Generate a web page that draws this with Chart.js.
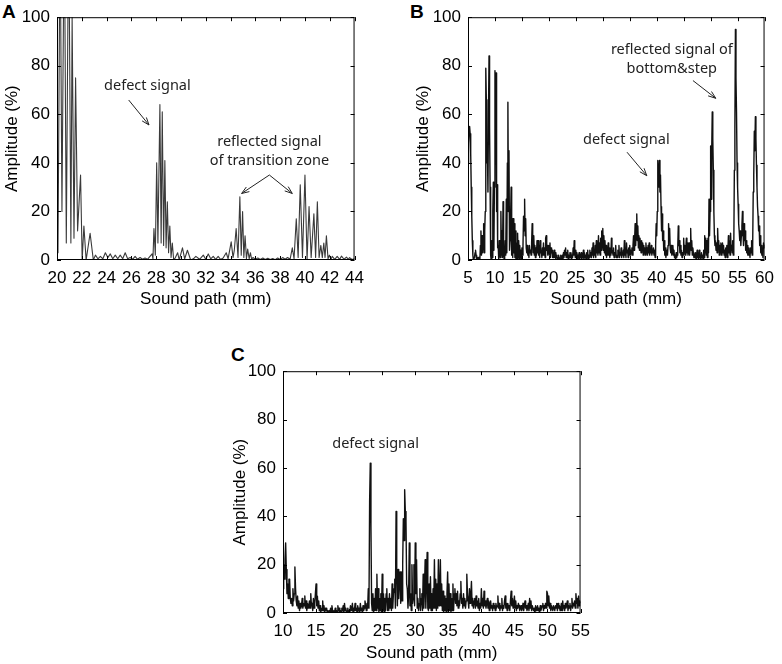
<!DOCTYPE html>
<html lang="en">
<head>
  <meta charset="UTF-8">
  <title>Sound path amplitude</title>
  <style>
    body { margin: 0; background: #fff; width: 782px; height: 664px; position: relative; overflow: hidden; }
    canvas { position: absolute; }
    .tag { position: absolute; font: bold 19px "Liberation Sans", Arial, sans-serif; line-height: 19px; color: #000; }
  </style>
</head>
<body>
  <div class="tag" style="left:2px; top:2px;">A</div>
  <div class="tag" style="left:410px; top:2px;">B</div>
  <div class="tag" style="left:231px; top:345px;">C</div>
  <canvas id="chartA" width="372" height="310" style="left:0; top:0;"></canvas>
  <canvas id="chartB" width="371" height="310" style="left:411px; top:0;"></canvas>
  <canvas id="chartC" width="372" height="310" style="left:226px; top:354px;"></canvas>

  <script src="https://cdn.jsdelivr.net/npm/chart.js"></script>
  <script>
    // Panel A: peaks and troughs (sound path mm, amplitude %)
    const pathA = [
      20.0, 20.08, 20.2, 20.3, 20.4, 20.52, 20.64, 20.75, 20.88, 21.0, 21.12, 21.22, 21.28, 21.37,
      21.5, 21.66, 21.9, 22.03, 22.17, 22.35, 22.67, 22.93,
      23.1, 23.3, 23.5, 23.7, 23.9, 24.1, 24.3, 24.5, 24.7, 24.9, 25.1, 25.3, 25.5, 25.7, 25.9,
      26.1, 26.3, 26.5, 26.7, 26.9, 27.1, 27.3, 27.5, 27.67, 27.74,
      27.82, 27.93, 28.04, 28.14, 28.3, 28.4, 28.49, 28.6, 28.7, 28.8, 28.9, 29.0, 29.1, 29.2,
      29.3, 29.41, 29.55, 29.73, 29.86, 30.12, 30.3, 30.52, 30.78,
      31.0, 31.2, 31.5, 31.8, 32.0, 32.2, 32.4, 32.6, 32.8, 33.0, 33.2, 33.4, 33.65, 33.8,
      34.05, 34.2, 34.3, 34.45, 34.6, 34.75, 34.86, 34.97, 35.07, 35.17, 35.28, 35.38, 35.5,
      35.6, 35.7, 35.8, 36.0, 36.2, 36.4, 36.6, 36.8, 37.0, 37.2, 37.4, 37.6, 37.8, 38.0,
      38.2, 38.4, 38.6, 38.8,
      38.98, 39.12, 39.3, 39.45, 39.62, 39.8, 40.0, 40.17, 40.33, 40.5, 40.72, 40.86, 41.0,
      41.14, 41.28, 41.4, 41.52, 41.62, 41.73, 41.86, 41.97, 42.1, 42.2, 42.4, 42.6, 42.8,
      42.95, 43.15, 43.35, 43.5, 43.6, 43.8, 44.0
    ];
    const ampA = [
      34, 3, 100, 100, 20, 100, 100, 7, 100, 100, 7, 100, 100, 9,
      75, 12, 35, 0, 14, 0, 11, 0,
      2, 0.5, 1.5, 0.5, 3, 1, 2.5, 0.5, 2, 0.5, 2, 0.5, 3, 0.5, 1,
      0.3, 1.5, 0.3, 1, 0.3, 0.8, 0.3, 1.5, 2.5, 0.5,
      13, 2, 40, 7, 64, 7, 61, 6, 41, 5, 24, 3, 14, 1,
      7, 0, 1, 3, 0, 5, 0.5, 4, 0,
      0.5, 1.5, 0.3, 2, 0.3, 2.5, 0.5, 1.5, 0.3, 1.5, 0.2, 0.8, 3, 0.5,
      7.5, 1, 4, 13, 1, 26, 2, 20, 1, 10, 0.5, 4.5, 0.5,
      3, 0.3, 1, 0.3, 0.8, 0.2, 0.8, 0.2, 0.7, 0.2, 0.6, 0.1, 0.8, 0.2,
      1, 0.3, 1, 0.3,
      5, 0.5, 17, 1, 31, 1, 35, 0, 22, 1, 19, 1, 24,
      1, 6, 1, 7, 1, 10, 0.5, 2, 0.3, 1.5, 0.3, 1.5, 0.3,
      1.6, 0.3, 1.2, 0.3, 1, 0.2, 0.5
    ];

    // Panel B: amplitude every 0.1 mm from 5.0 to 60.0 mm, one row per mm
    const pathBStart = 5;
    const ampB = [
      40, 48, 54, 55, 52, 44, 30, 18, 8, 2,
      0, 0, 1, 3, 4, 2, 0, 1, 0, 1,
      0, 1, 0, 6, 12, 2, 10, 3, 8, 15,
      3, 12, 20, 79, 66, 40, 45, 28, 60, 84,
      55, 30, 2, 0, 8, 1, 20, 32, 4, 30,
      78, 55, 77, 20, 31, 5, 6, 0, 8, 2,
      1, 20, 2, 12, 1, 24, 4, 0, 2, 8,
      2, 25, 3, 40, 65, 20, 45, 4, 8, 18,
      30, 2, 17, 1, 17, 3, 15, 1, 12, 0,
      7, 0, 11, 1, 8, 0, 6, 1, 4, 0,
      5, 2, 6, 18, 12, 25, 10, 17, 5, 3,
      6, 2, 4, 1, 6, 3, 4, 2, 7, 15,
      8, 3, 10, 2, 6, 1, 5, 2, 8, 3,
      8, 2, 6, 1, 8, 3, 4, 1, 5, 2,
      7, 2, 5, 1, 9, 10, 4, 6, 2, 5,
      6, 2, 7, 1, 5, 3, 4, 1, 3, 1,
      4, 1, 3, 0, 2, 1, 1, 0, 2, 1,
      1, 0, 2, 0, 1, 2, 0, 3, 1, 4,
      2, 5, 1, 3, 1, 4, 0, 2, 1, 3,
      1, 3, 0, 2, 1, 5, 2, 8, 3, 1,
      4, 1, 3, 0, 2, 1, 3, 0, 2, 1,
      3, 0, 2, 1, 4, 0, 3, 1, 2, 0,
      3, 1, 4, 0, 2, 1, 4, 2, 3, 1,
      5, 2, 7, 1, 4, 2, 6, 1, 8, 3,
      6, 2, 10, 3, 7, 2, 9, 4, 12, 5,
      13, 4, 10, 3, 8, 2, 6, 1, 5, 2,
      7, 2, 5, 1, 4, 2, 9, 3, 4, 2,
      5, 1, 3, 2, 6, 1, 2, 1, 4, 2,
      6, 1, 3, 2, 5, 1, 3, 2, 4, 1,
      8, 2, 5, 1, 7, 3, 4, 1, 5, 2,
      6, 2, 4, 3, 5, 2, 6, 10, 4, 8,
      15, 6, 12, 19, 8, 14, 5, 10, 4, 9,
      6, 3, 8, 4, 7, 2, 6, 3, 5, 2,
      7, 3, 5, 2, 6, 3, 7, 2, 5, 3,
      6, 2, 4, 3, 5, 2, 4, 1, 6, 15,
      10, 20, 41, 30, 36, 41, 28, 35, 22, 12,
      19, 8, 12, 4, 8, 2, 5, 1, 3, 4,
      2, 6, 15, 8, 13, 5, 3, 6, 2, 4,
      6, 2, 4, 1, 2, 0, 3, 1, 2, 5,
      14, 6, 8, 3, 6, 2, 4, 1, 3, 2,
      9, 3, 6, 2, 5, 9, 3, 7, 2, 5,
      7, 2, 5, 13, 4, 8, 2, 5, 3, 1,
      2, 1, 3, 0, 2, 4, 1, 3, 0, 4,
      1, 2, 0, 3, 1, 2, 0, 4, 1, 10,
      3, 9, 2, 8, 1, 9, 3, 25, 10, 20,
      47, 25, 45, 61, 50, 37, 20, 10, 6, 8,
      4, 7, 3, 13, 6, 8, 2, 6, 3, 7,
      2, 5, 7, 3, 6, 2, 4, 1, 5, 2,
      6, 1, 4, 10, 3, 8, 2, 11, 4, 6,
      3, 8, 2, 6, 37, 55, 95, 75, 61, 40,
      30, 23, 15, 12, 8, 12, 6, 10, 14, 20,
      12, 6, 15, 8, 12, 4, 8, 3, 6, 2,
      5, 2, 4, 1, 5, 3, 8, 2, 6, 28,
      35, 53, 45, 59, 50, 39, 30, 22, 18, 12,
      14, 6, 10, 3, 6, 2, 5, 1, 7, 6,
      5
    ];

    // Panel C: amplitude every 0.1 mm from 10.0 to 55.0 mm, one row per mm
    const pathCStart = 10;
    const ampC = [
      10, 20, 14, 22, 29, 18, 8, 12, 6, 14,
      14, 6, 4, 6, 3, 10, 5, 8, 19, 10,
      5, 3, 7, 2, 5, 1, 4, 2, 3, 6,
      2, 4, 3, 7, 2, 5, 1, 4, 2, 3,
      5, 2, 8, 3, 4, 1, 6, 2, 4, 8,
      12, 3, 7, 2, 5, 1, 3, 0, 2, 1,
      5, 1, 3, 0, 2, 1, 2, 0, 1, 0,
      1, 0, 2, 0, 3, 1, 0, 1, 0, 2,
      0, 1, 0, 3, 1, 2, 0, 1, 0, 2,
      1, 3, 0, 4, 1, 2, 0, 1, 2, 0,
      1, 0, 3, 1, 2, 4, 0, 2, 1, 4,
      1, 2, 0, 3, 1, 2, 0, 4, 1, 2,
      0, 3, 1, 2, 5, 3, 1, 4, 2, 10,
      2, 46, 62, 36, 4, 1, 8, 0, 6, 1,
      10, 1, 16, 2, 10, 0, 6, 1, 8, 0,
      16, 1, 8, 0, 6, 1, 8, 10, 1, 6,
      1, 8, 2, 6, 1, 12, 2, 8, 10, 14,
      2, 42, 18, 3, 18, 6, 14, 17, 4, 17,
      5, 20, 39, 30, 51, 42, 38, 12, 10, 2,
      8, 29, 3, 8, 1, 20, 4, 6, 20, 3,
      29, 8, 22, 2, 6, 1, 4, 10, 1, 6,
      8, 1, 16, 2, 10, 22, 2, 12, 25, 2,
      1, 12, 2, 15, 1, 8, 1, 10, 2, 22,
      2, 14, 1, 12, 2, 22, 3, 10, 22, 3,
      12, 1, 9, 0, 7, 1, 6, 0, 8, 17,
      1, 12, 1, 8, 0, 6, 1, 12, 1, 8,
      10, 4, 8, 3, 9, 2, 5, 3, 8, 13,
      4, 6, 2, 8, 3, 6, 2, 5, 16, 8,
      5, 2, 10, 4, 7, 13, 3, 6, 2, 5,
      6, 2, 7, 3, 5, 2, 6, 1, 4, 2,
      10, 3, 6, 2, 9, 3, 5, 2, 4, 6,
      2, 5, 1, 4, 5, 2, 3, 1, 4, 2,
      3, 1, 4, 2, 3, 7, 2, 4, 1, 3,
      2, 6, 1, 3, 2, 5, 7, 2, 4, 1,
      4, 2, 3, 1, 5, 9, 3, 6, 2, 4,
      7, 2, 5, 1, 3, 2, 4, 3, 1, 2,
      3, 1, 2, 4, 1, 3, 5, 2, 3, 1,
      2, 4, 1, 6, 2, 5, 1, 3, 3, 1,
      2, 0, 3, 1, 2, 3, 1, 2, 0, 3,
      1, 2, 3, 4, 1, 3, 2, 4, 2, 9,
      8, 3, 7, 2, 4, 1, 3, 2, 1, 3,
      2, 1, 3, 2, 4, 1, 4, 2, 3, 1,
      2, 4, 1, 5, 2, 3, 1, 4, 2, 3,
      5, 1, 3, 2, 4, 1, 3, 6, 2, 4,
      3, 5, 2, 8, 4, 6, 2, 7, 3, 5,
      4
    ];

    const ampTicks = [0, 20, 40, 60, 80, 100];

    // annotation text and arrows, in data units of each panel
    const notesA = [
      { text: 'defect signal', x: 27.29, y: 71.8 },
      { text: 'reflected signal', x: 37.13, y: 48.5 },
      { text: 'of transition zone', x: 37.13, y: 40.7 }
    ];
    const arrowsA = [[25.78, 65.9, 27.42, 55.6], [37.13, 35.0, 34.89, 27.4], [37.13, 35.0, 38.98, 27.4]];
    const notesB = [
      { text: 'reflected signal of', x: 42.8, y: 86.5 },
      { text: 'bottom&step', x: 42.8, y: 78.8 },
      { text: 'defect signal', x: 34.37, y: 49.3 }
    ];
    const arrowsB = [[46.72, 73.9, 50.95, 66.6], [34.49, 44.4, 38.16, 34.7]];
    const notesC = [{ text: 'defect signal', x: 24.0, y: 70.0 }];
    const arrowsC = [];

    const axisFont = { family: '"Liberation Sans", Arial, sans-serif', size: 17 };

    const boxTicks = {
      id: 'boxTicks',
      afterDatasetsDraw(chart, args, opts) {
        const { ctx, chartArea: a, scales: { x, y } } = chart;
        ctx.save();
        ctx.strokeStyle = '#000';
        ctx.lineWidth = 1;
        ctx.strokeRect(a.left + 0.5, a.top + 0.5, a.right - a.left - 1, a.bottom - a.top - 1);
        ctx.beginPath();
        x.ticks.forEach(t => {
          const px = Math.round(x.getPixelForValue(t.value)) + 0.5;
          ctx.moveTo(px, a.bottom); ctx.lineTo(px, a.bottom - 4);
          ctx.moveTo(px, a.top); ctx.lineTo(px, a.top + 4);
        });
        y.ticks.forEach(t => {
          const py = Math.round(y.getPixelForValue(t.value)) + 0.5;
          ctx.moveTo(a.left, py); ctx.lineTo(a.left + 4, py);
          ctx.moveTo(a.right, py); ctx.lineTo(a.right - 4, py);
        });
        ctx.stroke();

        ctx.fillStyle = '#222';
        ctx.font = '14.5px "Noto Sans", sans-serif';
        ctx.textAlign = 'center';
        ctx.textBaseline = 'middle';
        opts.notes.forEach(n => {
          ctx.fillText(n.text, x.getPixelForValue(n.x), y.getPixelForValue(n.y));
        });
        ctx.strokeStyle = '#222';
        opts.arrows.forEach(([x1, y1, x2, y2]) => {
          const ax = x.getPixelForValue(x1), ay = y.getPixelForValue(y1);
          const bx = x.getPixelForValue(x2), by = y.getPixelForValue(y2);
          const ang = Math.atan2(by - ay, bx - ax);
          ctx.beginPath();
          ctx.moveTo(ax, ay); ctx.lineTo(bx, by);
          ctx.moveTo(bx - 8 * Math.cos(ang - 0.35), by - 8 * Math.sin(ang - 0.35));
          ctx.lineTo(bx, by);
          ctx.lineTo(bx - 8 * Math.cos(ang + 0.35), by - 8 * Math.sin(ang + 0.35));
          ctx.stroke();
        });
        ctx.restore();
      }
    };

    function makePanel(id, points, xMin, xMax, xStep, pad, xAxisH, titlePad, notes, arrows, lineColor, lineWidth) {
      return new Chart(document.getElementById(id), {
        type: 'line',
        data: {
          datasets: [{
            data: points,
            borderColor: lineColor,
            borderWidth: lineWidth,
            borderJoinStyle: 'round',
            pointRadius: 0,
            tension: 0
          }]
        },
        options: {
          responsive: false,
          animation: false,
          events: [],
          layout: { padding: pad },
          plugins: {
            legend: { display: false },
            tooltip: { enabled: false },
            boxTicks: { notes: notes, arrows: arrows }
          },
          scales: {
            x: {
              type: 'linear',
              min: xMin,
              max: xMax,
              afterFit: s => { s.height = xAxisH; },
              grid: { display: false, drawTicks: false },
              border: { display: false },
              ticks: { stepSize: xStep, font: axisFont, color: '#000', padding: 8, maxRotation: 0, autoSkip: false },
              title: { display: true, text: 'Sound path (mm)', font: axisFont, color: '#000', padding: 0 }
            },
            y: {
              min: 0,
              max: 100,
              afterFit: s => { s.width = 57; },
              afterBuildTicks: s => { s.ticks = ampTicks.map(v => ({ value: v })); },
              grid: { display: false, drawTicks: false },
              border: { display: false },
              ticks: { font: axisFont, color: '#000', padding: 7 },
              title: { display: true, text: 'Amplitude (%)', font: axisFont, color: '#000', padding: { top: titlePad, bottom: 0 } }
            }
          }
        },
        plugins: [boxTicks]
      });
    }

    const pointsA = pathA.map((p, i) => ({ x: p, y: ampA[i] }));
    const pointsB = ampB.map((v, i) => ({ x: pathBStart + i / 10, y: v }));
    const pointsC = ampC.map((v, i) => ({ x: pathCStart + i / 10, y: v }));

    makePanel('chartA', pointsA, 20, 44, 2, { top: 7, right: 12, bottom: 0, left: 0 }, 50, 2, notesA, arrowsA, '#3a3a3a', 1.1);
    makePanel('chartB', pointsB, 5, 60, 5, { top: 7, right: 10, bottom: 0, left: 0 }, 50, 2, notesB, arrowsB, '#111', 1.4);
    makePanel('chartC', pointsC, 10, 55, 5, { top: 8, right: 11, bottom: 0, left: 0 }, 51, 4, notesC, arrowsC, '#111', 1.4);
  </script>
</body>
</html>
